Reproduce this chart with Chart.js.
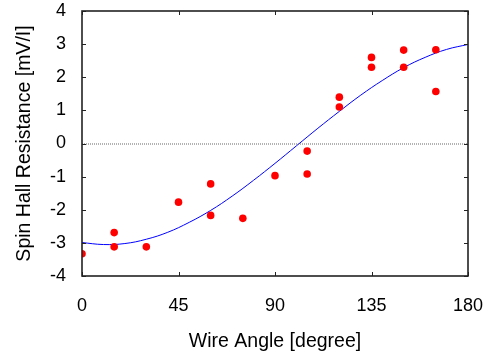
<!DOCTYPE html>
<html lang="en">
<head>
    <meta charset="UTF-8">
    <title>Spin Hall Resistance</title>
    <style>
        body {
            margin: 0;
            padding: 0;
            background-color: #fff;
        }
        #wrap {
            width: 491px;
            height: 355px;
        }
    </style>
    <script src="https://cdn.jsdelivr.net/npm/chart.js"></script>
</head>
<body>
    <div id="wrap">
        <canvas id="hallChart" width="491" height="355"></canvas>
    </div>

    <script>
        // measured points
        var angles = [0, 15, 15, 30, 45, 60, 60, 75, 90, 105, 105, 120, 120, 135, 135, 150, 150, 165, 165];
        var resistance = [-3.33, -2.69, -3.12, -3.12, -1.77, -1.22, -2.17, -2.26, -0.97, -0.23, -0.92,
                          1.40, 1.10, 2.60, 2.30, 2.82, 2.30, 2.83, 1.57];

        // fit curve, every 10 degrees
        var fitAngles = [0, 10, 20, 30, 40, 50, 60, 70, 80, 90, 100, 110, 120, 130, 140, 150, 160, 170, 180];
        var fitValues = [-2.99, -3.05, -3.02, -2.89, -2.68, -2.38, -2.02, -1.59, -1.11, -0.60, -0.07,
                         0.46, 0.97, 1.46, 1.90, 2.29, 2.60, 2.84, 2.99];

        var xTicks = [0, 45, 90, 135, 180];
        var yTicks = [-4, -3, -2, -1, 0, 1, 2, 3, 4];

        var tickFont = { family: 'Liberation Sans, Arial, sans-serif', size: 18 };
        var titleFont = { family: 'Liberation Sans, Arial, sans-serif', size: 19.5 };

        function pairs(xs, ys) {
            return xs.map(function(x, i) { return { x: x, y: ys[i] }; });
        }

        // frame, inward ticks on all sides and dotted zero line
        var framePlugin = {
            id: 'frame',
            afterDatasetsDraw: function(chart) {
                var c = chart.ctx, a = chart.chartArea;
                var xs = chart.scales.x, ys = chart.scales.y;
                var tl = 4;
                c.save();
                var y0 = ys.getPixelForValue(0);
                c.strokeStyle = '#666';
                c.lineWidth = 1;
                c.setLineDash([1, 1]);
                c.beginPath();
                c.moveTo(a.left, y0 + 0.5);
                c.lineTo(a.right, y0 + 0.5);
                c.stroke();
                c.setLineDash([]);
                c.strokeStyle = '#222';
                c.lineWidth = 1;
                c.beginPath();
                xTicks.forEach(function(v) {
                    var px = Math.round(xs.getPixelForValue(v)) + 0.5;
                    c.moveTo(px, a.bottom); c.lineTo(px, a.bottom - tl);
                    c.moveTo(px, a.top); c.lineTo(px, a.top + tl);
                });
                yTicks.forEach(function(v) {
                    var py = Math.round(ys.getPixelForValue(v)) + 0.5;
                    c.moveTo(a.left, py); c.lineTo(a.left + tl, py);
                    c.moveTo(a.right, py); c.lineTo(a.right - tl, py);
                });
                c.stroke();
                c.lineWidth = 1.6;
                c.strokeRect(a.left, a.top, a.right - a.left, a.bottom - a.top);
                c.restore();
            }
        };

        var ctx = document.getElementById('hallChart').getContext('2d');
        var hallChart = new Chart(ctx, {
            type: 'scatter',
            data: {
                datasets: [{
                    label: 'data',
                    data: pairs(angles, resistance),
                    backgroundColor: '#ff0000',
                    borderColor: '#ff0000',
                    borderWidth: 0,
                    pointRadius: 3.8
                }, {
                    label: 'fit',
                    data: pairs(fitAngles, fitValues),
                    showLine: true,
                    borderColor: '#0000ff',
                    borderWidth: 1,
                    pointRadius: 0,
                    tension: 0.4,
                    fill: false
                }]
            },
            options: {
                responsive: false,
                animation: false,
                layout: { padding: { top: 11, right: 23, left: 0, bottom: 0 } },
                plugins: {
                    legend: { display: false },
                    tooltip: { enabled: false }
                },
                scales: {
                    x: {
                        type: 'linear',
                        min: 0,
                        max: 180,
                        grid: { display: false },
                        border: { display: false },
                        afterBuildTicks: function(s) { s.ticks = xTicks.map(function(v) { return { value: v }; }); },
                        afterFit: function(s) {
                            s.height = 79;
                            s.paddingLeft = 0;
                            s.paddingRight = 0;
                        },
                        ticks: { color: '#000', font: tickFont, padding: 11, maxRotation: 0 },
                        title: {
                            display: true,
                            text: 'Wire Angle [degree]',
                            color: '#000',
                            font: titleFont,
                            padding: { top: 0, bottom: 2 }
                        }
                    },
                    y: {
                        type: 'linear',
                        min: -4,
                        max: 4,
                        grid: { display: false },
                        border: { display: false },
                        afterBuildTicks: function(s) { s.ticks = yTicks.map(function(v) { return { value: v }; }); },
                        afterFit: function(s) {
                            s.width = 82;
                            s.paddingTop = 0;
                            s.paddingBottom = 0;
                        },
                        ticks: { color: '#000', font: tickFont, padding: 8 },
                        title: {
                            display: true,
                            text: 'Spin Hall Resistance [mV/I]',
                            color: '#000',
                            font: titleFont,
                            padding: { top: 13, bottom: 0 }
                        }
                    }
                }
            },
            plugins: [framePlugin]
        });
    </script>
</body>
</html>
